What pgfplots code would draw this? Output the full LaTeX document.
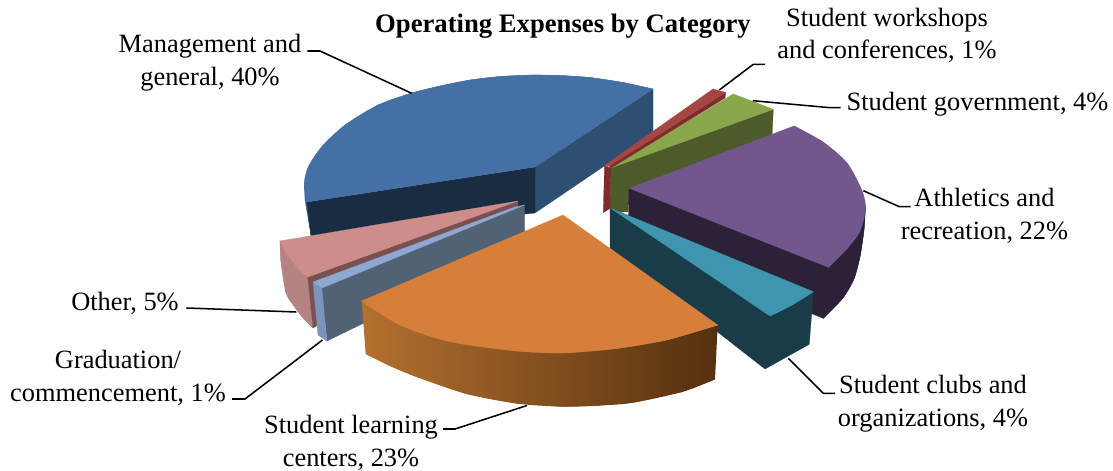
\documentclass[border=0pt]{standalone}
\usepackage{fontspec}
\setmainfont{Liberation Serif}
\usepackage{pgfplots}
\pgfplotsset{compat=1.18}
\definecolor{bluetop}{HTML}{4470A5}
\definecolor{blueside}{HTML}{2F4E74}
\definecolor{bluedark}{HTML}{1A2C42}
\definecolor{blueedge}{HTML}{3A6593}
\definecolor{pinktop}{HTML}{CC8D8B}
\definecolor{pinkside}{HTML}{B58382}
\definecolor{pinkdark}{HTML}{7A5050}
\definecolor{gradtop}{HTML}{8FA8D3}
\definecolor{gradside}{HTML}{7B94BD}
\definecolor{gradface}{HTML}{526275}
\definecolor{orangetop}{HTML}{D67F3A}
\definecolor{orangel}{HTML}{B4702F}
\definecolor{oranger}{HTML}{55300F}
\definecolor{purpletop}{HTML}{71578C}
\definecolor{purpledark}{HTML}{2D2138}
\definecolor{tealtop}{HTML}{3F95AD}
\definecolor{tealdark}{HTML}{1A3C48}
\definecolor{greentop}{HTML}{8AA64D}
\definecolor{greendark}{HTML}{4D5A2A}
\definecolor{redtop}{HTML}{A64643}
\definecolor{reddark}{HTML}{7E2C2A}
\tikzset{lab/.style={font=\fontsize{19.8}{24.4}\selectfont,align=center,inner sep=0pt,text=black}}
\pgfplotsset{face/.style={fill=#1,draw=#1,line width=.2pt},arc/.style={fill=#1,draw=#1,line width=.2pt,smooth}}
\begin{document}
\begin{tikzpicture}
\begin{axis}[scale only axis,width=834.75pt,height=351.75pt,xmin=0,xmax=1113,ymin=0,ymax=469,y dir=reverse,hide axis,clip=false]
\path (axis cs:0,0) rectangle (axis cs:1113,469);
% Student government
\addplot[face=greendark] coordinates {(610.7,168)(773.3,109.3)(772,137)(628,205)(628,212)(610,212)} --cycle;
\addplot[face=greentop] coordinates {(610.7,168)(733.3,94)(773.3,109.3)} --cycle;
% Management and general
\addplot[face=blueside] coordinates {(535,167)(653,89)(653,133)(535,213)} --cycle;
\addplot[face=blueedge] coordinates {(304.3,183)(305,200)(308,218)(311,235)(306.7,202)} --cycle;
\addplot[face=bluedark] coordinates {(306.7,202)(535,167)(535,213)(311,236)} --cycle;
\addplot[face=bluetop] coordinates {(535,167)(653,89)(623,82.5)(590,77.5)(560,75.5)(533,75)(500,76.5)(470,80)(440,86)(411.7,93)(378,105)(345,125)(322,146.5)(308.5,166.5)(304.3,183)(306.7,202)} --cycle;
\addplot[arc=bluetop] coordinates {(653,89)(623,82.5)(590,77.5)(560,75.5)(533,75)(500,76.5)(470,80)(440,86)(411.7,93)(378,105)(345,125)(322,146.5)(308.5,166.5)(304.3,183)(306.7,202)} --cycle;
% Student workshops and conferences
\addplot[face=reddark] coordinates {(604.5,165.5)(611,168)(610,208.3)(603.3,212.7)} --cycle;
\addplot[face=reddark] coordinates {(609,166)(725.7,92.5)(725,98)(611,168)} --cycle;
\addplot[face=redtop] coordinates {(604.5,165.5)(713,89)(725.7,92.5)(609,166)} --cycle;
% Athletics and recreation
\addplot[face=purpledark] coordinates {(629,188)(865.5,206)(864,230)(860,257)(854,279)(843,298)(823.3,318.3)(628,240)} --cycle;
\addplot[arc=purpledark] coordinates {(865.5,206)(864,230)(860,257)(854,279)(843,298)(823.3,318.3)} --cycle;
\addplot[face=purpletop] coordinates {(629.3,188.3)(794,126)(823,142)(847,163)(861.7,190)(865.5,208)(860,231)(846.7,249)(828.3,267.3)} --cycle;
\addplot[arc=purpletop] coordinates {(794,126)(823,142)(847,163)(861.7,190)(865.5,208)(860,231)(846.7,249)(828.3,267.3)} --cycle;
% Student clubs and organizations
\addplot[face=tealdark] coordinates {(610,208)(813.3,291.7)(809.3,344.3)(765,369)(610,248)} --cycle;
\addplot[face=tealtop] coordinates {(610.7,208.3)(813.3,291.7)(792,305)(770,316)} --cycle;
\addplot[arc=tealtop] coordinates {(813.3,291.7)(792,305)(770,316)} --cycle;
% Other
\addplot[face=pinkside] coordinates {(280,241)(281,262)(286,293)(294,306)(303,318)(313,328)(307.7,277)} --cycle;
\addplot[arc=pinkside] coordinates {(280,241)(281,262)(286,293)(294,306)(303,318)(313,328)} --cycle;
\addplot[face=pinkdark] coordinates {(307.7,277)(518,201)(518,206)(313,328)} --cycle;
\addplot[face=pinktop] coordinates {(518,201)(280,241)(286,252)(293,262)(300,270)(307.7,277)} --cycle;
\addplot[arc=pinktop] coordinates {(280,241)(286,252)(293,262)(300,270)(307.7,277)} --cycle;
% Graduation/commencement
\addplot[face=gradface] coordinates {(322,288)(524.5,205)(524.5,245)(327,341)} --cycle;
\addplot[face=gradside] coordinates {(313,282)(322,288)(326.7,341)(318,335)} --cycle;
\addplot[face=gradtop] coordinates {(515,207)(313,282)(322,288)(524.5,205)} --cycle;
% Student learning centers
\addplot[draw=none,smooth,left color=orangel,right color=oranger] coordinates {(365.7,354)(390,366)(416.7,377)(466.7,394)(516.7,403.5)(563,406.7)(600,405.5)(633,402.7)(683,391.7)(715,379.3)} --cycle;
\addplot[draw=none,left color=orangel,right color=oranger] coordinates {(361.7,301)(365.7,354)(390,366)(416.7,377)(466.7,394)(516.7,403.5)(563,406.7)(600,405.5)(633,402.7)(683,391.7)(715,379.3)(717.7,325)} --cycle;
\addplot[face=orangetop] coordinates {(563,215)(361.7,301)(400,325)(450,341.7)(516.7,351)(563,353)(616.7,348.5)(666.7,340)(717.7,325)} --cycle;
\addplot[arc=orangetop] coordinates {(361.7,301)(400,325)(450,341.7)(516.7,351)(563,353)(616.7,348.5)(666.7,340)(717.7,325)} --cycle;
% Leader lines
\addplot[black,line width=1.15pt] coordinates {(307.3,51)(320,51)(411.7,93.3)};
\addplot[black,line width=1.15pt] coordinates {(719.3,90)(753.3,64.3)(765,64.3)};
\addplot[black,line width=1.15pt] coordinates {(752.7,100.7)(830,107.7)(840.7,107.7)};
\addplot[black,line width=1.15pt] coordinates {(863.3,190.7)(899.3,206.7)(910.7,206.7)};
\addplot[black,line width=1.15pt] coordinates {(788.3,358.3)(823.3,393.3)(835,393.3)};
\addplot[black,line width=1.15pt] coordinates {(527,405.5)(455,429)(443,429)};
\addplot[black,line width=1.15pt] coordinates {(322.5,340)(245,399)(232,399)};
\addplot[black,line width=1.15pt] coordinates {(186.4,308)(296.4,312)};
% Labels
\node[lab,font=\fontsize{20}{24.4}\selectfont\bfseries] at (axis cs:563,26) {Operating Expenses by Category};
\node[lab] at (axis cs:210,62.5) {Management and\\general, 40\%};
\node[lab] at (axis cs:887,35.5) {Student workshops\\and conferences, 1\%};
\node[lab] at (axis cs:977.5,104) {Student government, 4\%};
\node[lab] at (axis cs:984.5,216) {Athletics and\\recreation, 22\%};
\node[lab] at (axis cs:933,403.5) {Student clubs and\\organizations, 4\%};
\node[lab] at (axis cs:351,443) {Student learning\\centers, 23\%};
\node[lab] at (axis cs:118,378) {Graduation/\\commencement, 1\%};
\node[lab] at (axis cs:125,303) {Other, 5\%};
\end{axis}
\end{tikzpicture}
\end{document}
